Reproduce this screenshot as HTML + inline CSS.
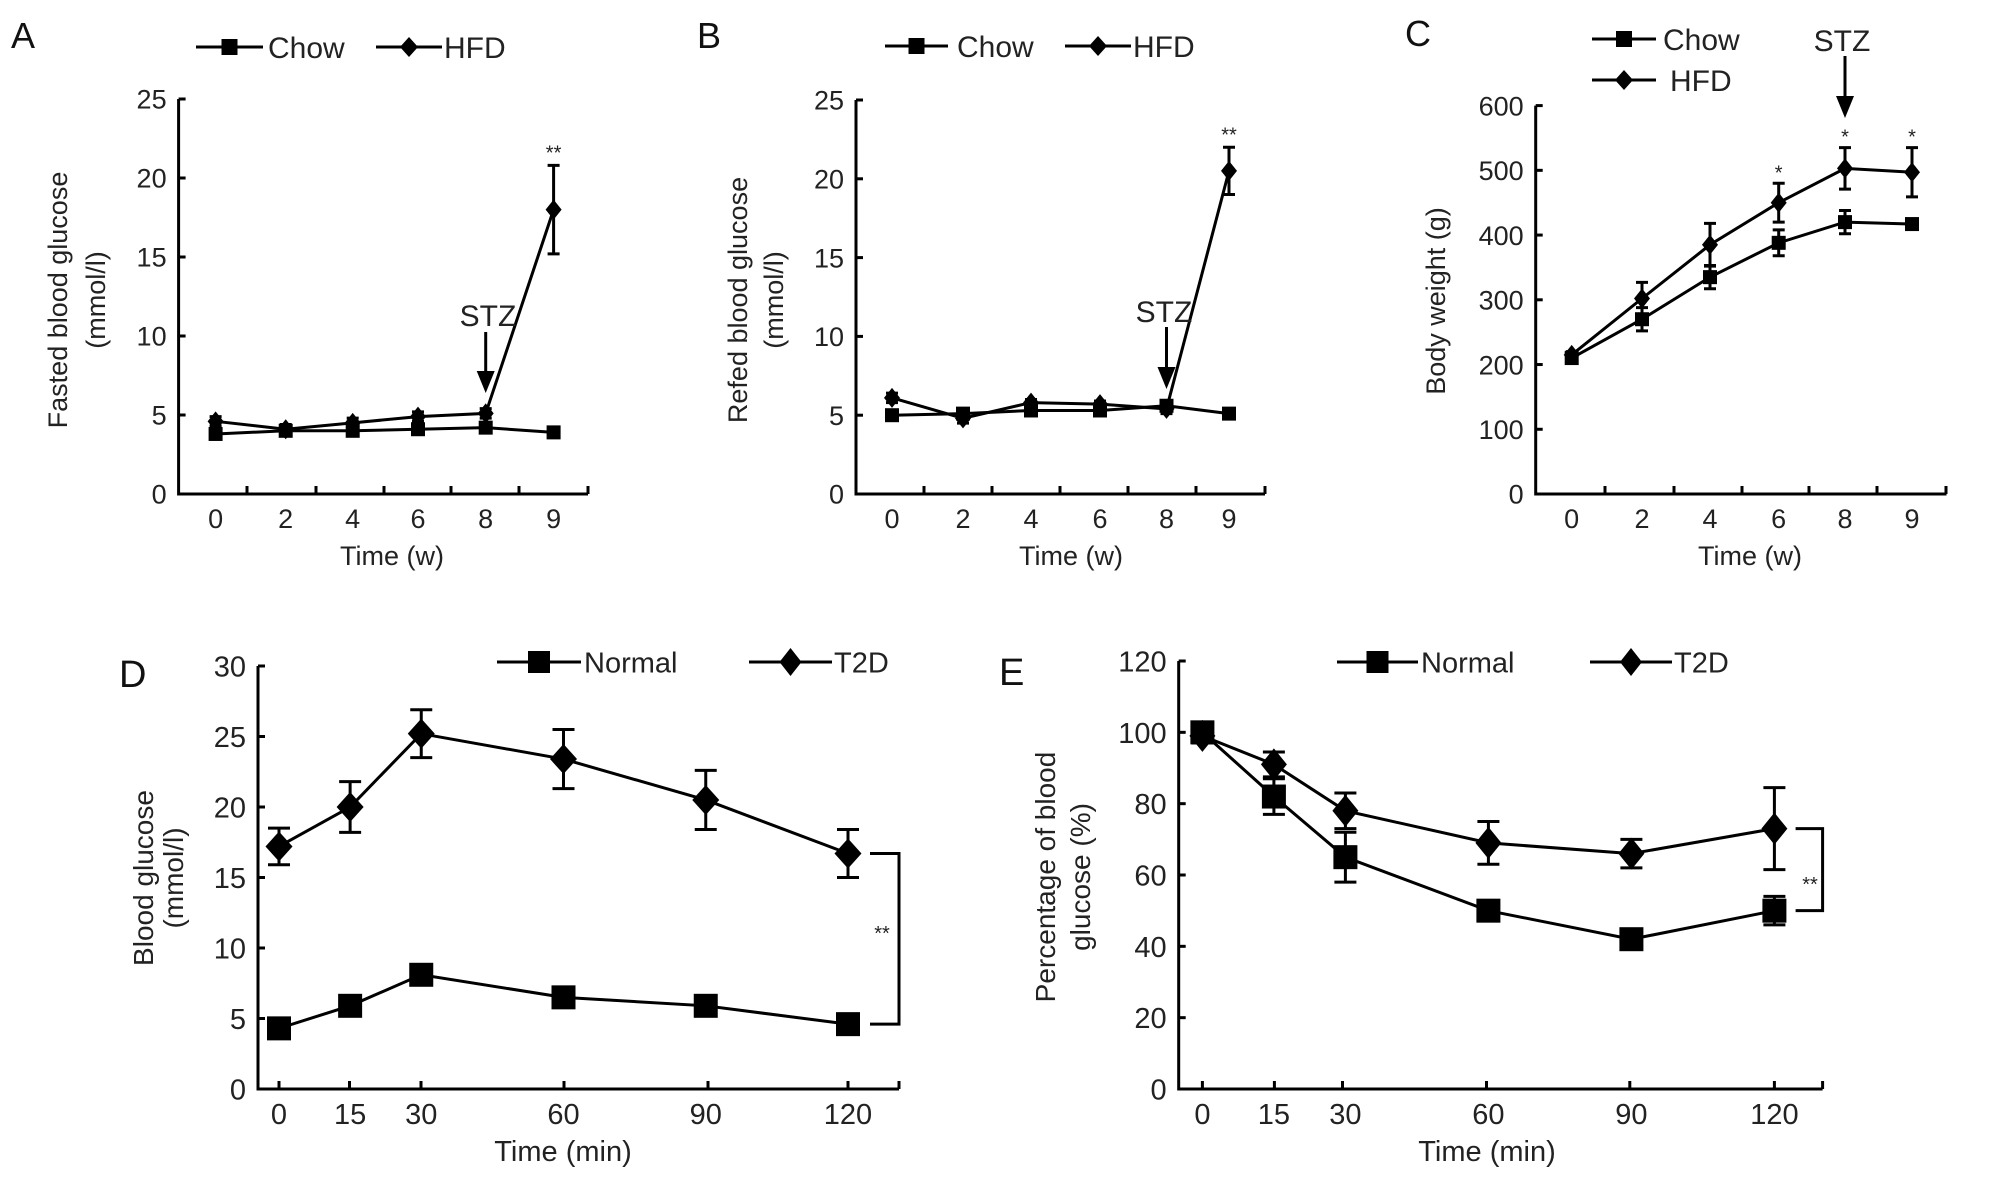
<!DOCTYPE html>
<html><head><meta charset="utf-8"><style>
html,body{margin:0;padding:0;background:#fff;}
svg{display:block;font-family:"Liberation Sans",Arial,sans-serif;}
</style></head><body>
<svg id="fig" width="2008" height="1177" viewBox="0 0 2008 1177" xmlns="http://www.w3.org/2000/svg"></svg>
<script>
// ---- data ----
const weekCats = ["0","2","4","6","8","9"];
const minCats = ["0","15","30","60","90","120"];
const minVals = [0,15,30,60,90,120];
const aChow = [3.8,4.0,4.0,4.1,4.2,3.9];
const aChowErr = [0.3,0.3,0.3,0.3,0.3,0.3];
const aHfd = [4.6,4.1,4.5,4.9,5.1,18.0];
const aHfdErr = [0.3,0.3,0.3,0.3,0.3,2.8];
const bChow = [5.0,5.1,5.3,5.3,5.6,5.1];
const bChowErr = [0.3,0.3,0.2,0.2,0.3,0.3];
const bHfd = [6.1,4.8,5.8,5.7,5.4,20.5];
const bHfdErr = [0.3,0.3,0.2,0.2,0.3,1.5];
const cChow = [210,270,335,388,420,417];
const cChowErr = [5,18,18,20,18,5];
const cHfd = [215,302,385,450,503,497];
const cHfdErr = [5,25,33,30,32,38];
const dNormal = [4.3,5.9,8.1,6.5,5.9,4.6];
const dNormalErr = [0.4,0.4,0.5,0.4,0.4,0.4];
const dT2d = [17.2,20.0,25.2,23.4,20.5,16.7];
const dT2dErr = [1.3,1.8,1.7,2.1,2.1,1.7];
const eNormal = [100,82,65,50,42,50];
const eNormalErr = [2,5,7,2,2,4];
const eT2d = [99,91,78,69,66,73];
const eT2dErr = [2,3.5,5,6,4,11.5];
const ticksGlucose = [0,5,10,15,20,25];
const ticksWeight = [0,100,200,300,400,500,600];
const ticksD = [0,5,10,15,20,25,30];
const ticksE = [0,20,40,60,80,100,120];

const NS = "http://www.w3.org/2000/svg";
const svg = document.getElementById("fig");
function el(tag, attrs, parent, text){
  const e = document.createElementNS(NS, tag);
  for (const k in attrs) e.setAttribute(k, attrs[k]);
  if (text !== undefined) e.textContent = text;
  (parent || svg).appendChild(e);
  return e;
}
function square(g, x, y, s){ return el("rect",{x:x-s/2,y:y-s/2,width:s,height:s,fill:"#000"},g); }
function diamond(g, x, y, w, h){ return el("polygon",{points:`${x},${y-h/2} ${x+w/2},${y} ${x},${y+h/2} ${x-w/2},${y}`,fill:"#000"},g); }

function panel(p){
  const g = el("g",{});
  
  
  const ymin = p.ticks[0], ymax = p.ticks[p.ticks.length-1];
  const Y = v => p.y0 + (v - ymin)/(ymax - ymin)*(p.yTop - p.y0);
  const X = i => p.xPos(i);
  // axes
  const ax = el("path",{d:`M${p.ax},${p.yTop} L${p.ax},${p.y0} L${p.xEnd},${p.y0}`,stroke:"#000","stroke-width":3,fill:"none"},g);
  
  
  p.ticks.forEach(t=>{
    el("line",{x1:p.ax,x2:p.ax+7,y1:Y(t),y2:Y(t),stroke:"#000","stroke-width":3},g);
    const tl = el("text",{x:p.ax-12,y:Y(t)+p.fs*0.36,"text-anchor":"end","font-size":p.fs,fill:"#222"},g,String(t));
    
    
  });
  p.xTicks.forEach(x=>el("line",{x1:x,x2:x,y1:p.y0,y2:p.y0-8,stroke:"#000","stroke-width":3},g));
  p.cats.forEach((c,i)=>{
    const tl = el("text",{x:X(i),y:p.xLabY,"text-anchor":"middle","font-size":p.fs,fill:"#222"},g,c);
    
    
  });
  const xt = el("text",{x:p.xTitleX,y:p.xTitleY,"text-anchor":"middle","font-size":p.fs,fill:"#222"},g,p.xTitle);
  
  
  p.yTitle.forEach((t,k)=>{
    const yt = el("text",{x:0,y:0,"text-anchor":"middle","font-size":p.yfs,fill:"#222",transform:`translate(${p.yTitleX[k]},${p.yTitleY}) rotate(-90)`},g,t);
    
    
  });
  const lt = el("text",{x:p.letter[0],y:p.letter[1],"font-size":p.letterFs,fill:"#111"},g,p.letter[2]);
  
  
  // series
  p.series.forEach(s=>{
    const sg = el("g",{},g);
    
    
    el("polyline",{points:s.vals.map((v,i)=>`${X(i)},${Y(v)}`).join(" "),fill:"none",stroke:"#000","stroke-width":3},sg);
    s.vals.forEach((v,i)=>{
      const e = s.err[i];
      const dir = s.errDir;
      const parts = [];
      if (dir>=0){ parts.push(`M${X(i)},${Y(v)} L${X(i)},${Y(v+e)} M${X(i)-p.cap},${Y(v+e)} L${X(i)+p.cap},${Y(v+e)}`); }
      if (dir<=0){ parts.push(`M${X(i)},${Y(v)} L${X(i)},${Y(v-e)} M${X(i)-p.cap},${Y(v-e)} L${X(i)+p.cap},${Y(v-e)}`); }
      el("path",{d:parts.join(" "),stroke:"#000","stroke-width":3,fill:"none"},sg);
      const m = s.marker==="sq" ? square(sg,X(i),Y(v),p.sq) : diamond(sg,X(i),Y(v),p.dw,p.dh);
      
      
    });
  });
  // legend
  p.legend.forEach(l=>{
    const lg = el("g",{},g);
    
    
    el("line",{x1:l.x1,x2:l.x2,y1:l.y,y2:l.y,stroke:"#000","stroke-width":3},lg);
    if (l.marker==="sq") square(lg,(l.x1+l.x2)/2,l.y,p.lsq); else diamond(lg,(l.x1+l.x2)/2,l.y,p.ldw,p.ldh);
    el("text",{x:l.tx,y:l.y+p.lfs*0.36,"font-size":p.lfs,fill:"#222"},lg,l.text);
  });
  return {g,X,Y};
}

const wkTicksA = [248,315,383,450,518,588];
// Panel A
const A = panel({name:"panel-a",ax:178.6,xEnd:588,y0:494,yTop:99,ticks:ticksGlucose,
  xPos:i=>[215.6,285.7,352.7,418,485.7,553.6][i],xTicks:[247,316,384,451,519,588],
  cats:weekCats,fs:27,yfs:27,xLabY:528,xTitle:"Time (w)",xTitleX:392,xTitleY:565,
  yTitle:["Fasted blood glucose","(mmol/l)"],yTitleX:[67,105],yTitleY:300,
  letter:[11,48,"A"],letterFs:36,cap:6,sq:14,dw:16,dh:20,lsq:16,ldw:18,ldh:20,lfs:30,
  series:[{name:"chow-series",vals:aChow,err:aChowErr,marker:"sq",errDir:0},
          {name:"hfd-series",vals:aHfd,err:aHfdErr,marker:"di",errDir:0}],
  legend:[{x1:196,x2:263,y:47,tx:268,text:"Chow",marker:"sq"},{x1:376,x2:442,y:47,tx:444,text:"HFD",marker:"di"}]});
// Panel B
const B = panel({name:"panel-b",ax:856,xEnd:1265,y0:494,yTop:100,ticks:ticksGlucose,
  xPos:i=>[892,963,1031,1100,1166.5,1229][i],xTicks:[924,992,1060,1128,1196,1265],
  cats:weekCats,fs:27,yfs:27,xLabY:528,xTitle:"Time (w)",xTitleX:1071,xTitleY:565,
  yTitle:["Refed blood glucose","(mmol/l)"],yTitleX:[747,783],yTitleY:300,
  letter:[697,48,"B"],letterFs:36,cap:6,sq:14,dw:16,dh:20,lsq:16,ldw:18,ldh:20,lfs:30,
  series:[{name:"chow-series",vals:bChow,err:bChowErr,marker:"sq",errDir:0},
          {name:"hfd-series",vals:bHfd,err:bHfdErr,marker:"di",errDir:0}],
  legend:[{x1:885,x2:948,y:46,tx:957,text:"Chow",marker:"sq"},{x1:1065,x2:1131,y:46,tx:1133,text:"HFD",marker:"di"}]});
// Panel C
const C = panel({name:"panel-c",ax:1535.7,xEnd:1946.5,y0:494,yTop:105.6,ticks:ticksWeight,
  xPos:i=>[1571.7,1642,1710,1778.7,1845,1912][i],xTicks:[1605,1674,1742,1809,1877,1946],
  cats:weekCats,fs:27,yfs:27,xLabY:528,xTitle:"Time (w)",xTitleX:1750,xTitleY:565,
  yTitle:["Body weight (g)"],yTitleX:[1445],yTitleY:301,
  letter:[1405,46,"C"],letterFs:36,cap:6,sq:14,dw:16,dh:20,lsq:16,ldw:18,ldh:20,lfs:30,
  series:[{name:"chow-series",vals:cChow,err:cChowErr,marker:"sq",errDir:0},
          {name:"hfd-series",vals:cHfd,err:cHfdErr,marker:"di",errDir:0}],
  legend:[{x1:1592,x2:1656,y:39,tx:1663,text:"Chow",marker:"sq"},{x1:1592,x2:1656,y:80,tx:1670,text:"HFD",marker:"di"}]});
// Panel D
const D = panel({name:"panel-d",ax:258,xEnd:899,y0:1089,yTop:666,ticks:ticksD,
  xPos:i=>279+minVals[i]*(848-279)/120,xTicks:[279,349.5,421,564,708,848,899],
  cats:minCats,fs:29,yfs:28,xLabY:1124,xTitle:"Time (min)",xTitleX:563,xTitleY:1161,
  yTitle:["Blood glucose","(mmol/l)"],yTitleX:[153,183],yTitleY:878,
  letter:[119,687,"D"],letterFs:38,cap:11,sq:24,dw:27,dh:30,lsq:22,ldw:22,ldh:28,lfs:29,
  series:[{name:"normal-series",vals:dNormal,err:dNormalErr,marker:"sq",errDir:0},
          {name:"t2d-series",vals:dT2d,err:dT2dErr,marker:"di",errDir:0}],
  legend:[{x1:497,x2:581,y:662,tx:584,text:"Normal",marker:"sq"},{x1:749,x2:832,y:662,tx:834,text:"T2D",marker:"di"}]});
// Panel E
const E = panel({name:"panel-e",ax:1178.7,xEnd:1822.6,y0:1089,yTop:661,ticks:ticksE,
  xPos:i=>1202.4+minVals[i]*(1774.4-1202.4)/120,xTicks:[1202.4,1274.4,1342.5,1486.5,1629.8,1774.4,1822.6],
  cats:minCats,fs:29,yfs:28,xLabY:1124,xTitle:"Time (min)",xTitleX:1487,xTitleY:1161,
  yTitle:["Percentage of blood","glucose (%)"],yTitleX:[1055,1090],yTitleY:877,
  letter:[999,685,"E"],letterFs:38,cap:11,sq:24,dw:26,dh:32,lsq:22,ldw:22,ldh:28,lfs:29,
  series:[{name:"normal-series",vals:eNormal,err:eNormalErr,marker:"sq",errDir:0},
          {name:"t2d-series",vals:eT2d,err:eT2dErr,marker:"di",errDir:0}],
  legend:[{x1:1337,x2:1418,y:662,tx:1421,text:"Normal",marker:"sq"},{x1:1590,x2:1672,y:662,tx:1674,text:"T2D",marker:"di"}]});

// annotations
function arrow(x, y1, y2, name){
  const g = el("g",{});
  
  
  el("line",{x1:x,x2:x,y1:y1,y2:y2-18,stroke:"#000","stroke-width":3},g);
  el("polygon",{points:`${x-9},${y2-22} ${x+9},${y2-22} ${x},${y2}`,fill:"#000"},g);
}
function txt(x,y,s,fs,name,anchor){
  const t = el("text",{x:x,y:y,"font-size":fs,"text-anchor":anchor||"middle",fill:"#222"},svg,s);
  
  
}
txt(488,326,"STZ",30,"stz-label");
arrow(A.X(4),332,393,"stz-arrow");
txt(1164,322,"STZ",30,"stz-label");
arrow(B.X(4),327,389,"stz-arrow");
txt(1842,51,"STZ",30,"stz-label");
arrow(C.X(4),56,118,"stz-arrow");
txt(A.X(5),A.Y(aHfd[5]+aHfdErr[5])-6,"**",20,"significance-marker");
txt(B.X(5),B.Y(bHfd[5]+bHfdErr[5])-6,"**",20,"significance-marker");
[3,4,5].forEach(i=>txt(C.X(i),C.Y(cHfd[i]+cHfdErr[i])-4,"*",20,"significance-marker"));
function bracket(x, xs, ya, yb, name){
  const p = el("path",{d:`M${xs},${ya} L${x},${ya} L${x},${yb} L${xs},${yb}`,stroke:"#000","stroke-width":3,fill:"none"});
  
  
}
bracket(899,870,D.Y(dT2d[5]),D.Y(dNormal[5]),"significance-bracket");
txt(882,940,"**",20,"significance-marker");
bracket(1822.6,1795.6,E.Y(eT2d[5]),E.Y(eNormal[5]),"significance-bracket");
txt(1810,891,"**",20,"significance-marker");
</script>
</body></html>
